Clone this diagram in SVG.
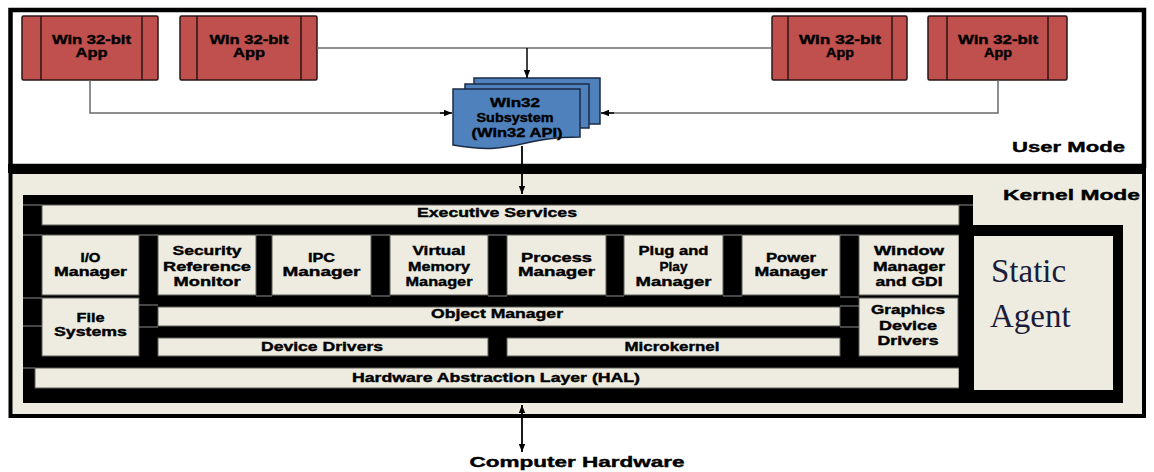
<svg xmlns="http://www.w3.org/2000/svg" width="1154" height="472" viewBox="0 0 1154 472">
  <style>
    .t { font-family: "Liberation Sans", Arial, sans-serif; font-weight: bold; font-size: 13px; fill: #000; stroke: #000; stroke-width: 0.4; text-anchor: middle; }
    .big { font-size: 15px; }
    .mode { font-size: 15px; text-anchor: start; }
    .serif { font-family: "Liberation Serif", "Times New Roman", serif; font-weight: normal; font-size: 33px; fill: #1c1c3a; text-anchor: start; }
    .app { fill: #c0504d; stroke: #2b1515; stroke-width: 1.5; }
    .appdiv { stroke: #2b1515; stroke-width: 1.5; }
    .doc { fill: #4f81bd; stroke: #1b2a44; stroke-width: 1.5; }
    .mod { fill: #eeece1; stroke: #5e5e58; stroke-width: 1; }
    .thin { fill: none; stroke: #6a6a6a; stroke-width: 1.5; }
    .arw { fill: none; stroke: #000; stroke-width: 1.5; }
    .arwb { fill: none; stroke: #000; stroke-width: 1.8; }
    .seam { stroke: #8c8c8c; stroke-width: 1; }
  </style>
  <defs>
    <marker id="ah" viewBox="0 0 10 10" refX="10" refY="5" markerWidth="8" markerHeight="8" orient="auto-start-reverse" markerUnits="userSpaceOnUse">
      <path d="M0,1 L10,5 L0,9 Z" fill="#000"/>
    </marker>
  </defs>

  <rect width="1154" height="472" fill="#fff"/>

  <!-- user mode area -->
  <g id="user-mode">
    <rect x="10.5" y="10" width="1133.5" height="156" fill="#fff" stroke="#000" stroke-width="4.5"/>
    <text class="t mode" x="1012" y="152" textLength="113" lengthAdjust="spacingAndGlyphs">User Mode</text>
  </g>

  <!-- kernel mode area -->
  <g id="kernel-mode">
    <rect x="10.5" y="172" width="1133.5" height="244" fill="#eeece1" stroke="#000" stroke-width="4"/>
    <rect x="8" y="164" width="1138" height="9" fill="#000"/>
    <text class="t mode" x="1003" y="200" textLength="137" lengthAdjust="spacingAndGlyphs">Kernel Mode</text>
  </g>

  <!-- applications -->
  <g id="app1">
    <rect class="app" x="22" y="16" width="136" height="64" rx="1.5"/>
    <line class="appdiv" x1="41" y1="16" x2="41" y2="80"/>
    <line class="appdiv" x1="142" y1="16" x2="142" y2="80"/>
    <text class="t" x="91.5" y="44" textLength="79" lengthAdjust="spacingAndGlyphs">Win 32-bit</text>
    <text class="t" x="91.5" y="57" textLength="32" lengthAdjust="spacingAndGlyphs">App</text>
  </g>
  <g id="app2">
    <rect class="app" x="180" y="16" width="137" height="64" rx="1.5"/>
    <line class="appdiv" x1="197" y1="16" x2="197" y2="80"/>
    <line class="appdiv" x1="301" y1="16" x2="301" y2="80"/>
    <text class="t" x="249" y="44" textLength="79" lengthAdjust="spacingAndGlyphs">Win 32-bit</text>
    <text class="t" x="249" y="57" textLength="32" lengthAdjust="spacingAndGlyphs">App</text>
  </g>
  <g id="app3">
    <rect class="app" x="772" y="16" width="135" height="64" rx="1.5"/>
    <line class="appdiv" x1="788" y1="16" x2="788" y2="80"/>
    <line class="appdiv" x1="892" y1="16" x2="892" y2="80"/>
    <text class="t" x="840" y="44" textLength="82" lengthAdjust="spacingAndGlyphs">Win 32-bit</text>
    <text class="t" x="840" y="57" textLength="28" lengthAdjust="spacingAndGlyphs">App</text>
  </g>
  <g id="app4">
    <rect class="app" x="928" y="16" width="139" height="64" rx="1.5"/>
    <line class="appdiv" x1="947" y1="16" x2="947" y2="80"/>
    <line class="appdiv" x1="1048" y1="16" x2="1048" y2="80"/>
    <text class="t" x="998" y="44" textLength="80" lengthAdjust="spacingAndGlyphs">Win 32-bit</text>
    <text class="t" x="998" y="57" textLength="28" lengthAdjust="spacingAndGlyphs">App</text>
  </g>

  <!-- Win32 subsystem (stacked documents) -->
  <g id="win32-subsystem">
    <rect class="doc" x="474" y="78" width="126" height="46"/>
    <rect class="doc" x="465" y="84" width="124" height="44"/>
    <path class="doc" d="M453,89 H580 V137 C516,137 516,156 453,145 Z"/>
    <text class="t" x="515" y="107" textLength="50" lengthAdjust="spacingAndGlyphs">Win32</text>
    <text class="t" x="515" y="122" textLength="77" lengthAdjust="spacingAndGlyphs">Subsystem</text>
    <text class="t" x="517" y="137" textLength="91" lengthAdjust="spacingAndGlyphs">(Win32 API)</text>
  </g>

  <!-- executive block: black frame with module cells -->
  <g id="executive">
    <rect x="23" y="195" width="950" height="208" fill="#000"/>
    <rect class="mod" x="42" y="205" width="917" height="20"/>
    <text class="t" x="497" y="217" textLength="160" lengthAdjust="spacingAndGlyphs">Executive Services</text>
  </g>

  <g id="io-manager">
    <rect class="mod" x="42" y="235" width="97" height="60"/>
    <text class="t" x="90.5" y="262" textLength="20" lengthAdjust="spacingAndGlyphs">I/O</text>
    <text class="t" x="90.5" y="276" textLength="73" lengthAdjust="spacingAndGlyphs">Manager</text>
  </g>
  <g id="security-reference-monitor">
    <rect class="mod" x="158" y="235" width="98" height="60"/>
    <text class="t" x="207" y="255" textLength="69" lengthAdjust="spacingAndGlyphs">Security</text>
    <text class="t" x="207" y="271" textLength="88" lengthAdjust="spacingAndGlyphs">Reference</text>
    <text class="t" x="207" y="286" textLength="67" lengthAdjust="spacingAndGlyphs">Monitor</text>
  </g>
  <g id="ipc-manager">
    <rect class="mod" x="272" y="235" width="99" height="60"/>
    <text class="t" x="321.5" y="262" textLength="27" lengthAdjust="spacingAndGlyphs">IPC</text>
    <text class="t" x="321.5" y="276" textLength="78" lengthAdjust="spacingAndGlyphs">Manager</text>
  </g>
  <g id="virtual-memory-manager">
    <rect class="mod" x="390" y="235" width="98" height="60"/>
    <text class="t" x="439" y="255" textLength="53" lengthAdjust="spacingAndGlyphs">Virtual</text>
    <text class="t" x="439" y="271" textLength="62" lengthAdjust="spacingAndGlyphs">Memory</text>
    <text class="t" x="439" y="286" textLength="67" lengthAdjust="spacingAndGlyphs">Manager</text>
  </g>
  <g id="process-manager">
    <rect class="mod" x="507" y="235" width="99" height="60"/>
    <text class="t" x="556.5" y="262" textLength="71" lengthAdjust="spacingAndGlyphs">Process</text>
    <text class="t" x="556.5" y="276" textLength="77" lengthAdjust="spacingAndGlyphs">Manager</text>
  </g>
  <g id="plug-and-play-manager">
    <rect class="mod" x="624" y="235" width="99" height="60"/>
    <text class="t" x="673.5" y="255" textLength="70" lengthAdjust="spacingAndGlyphs">Plug and</text>
    <text class="t" x="673.5" y="271" textLength="28" lengthAdjust="spacingAndGlyphs">Play</text>
    <text class="t" x="673.5" y="286" textLength="76" lengthAdjust="spacingAndGlyphs">Manager</text>
  </g>
  <g id="power-manager">
    <rect class="mod" x="742" y="235" width="98" height="60"/>
    <text class="t" x="791" y="262" textLength="50" lengthAdjust="spacingAndGlyphs">Power</text>
    <text class="t" x="791" y="276" textLength="73" lengthAdjust="spacingAndGlyphs">Manager</text>
  </g>
  <g id="window-manager-gdi">
    <rect class="mod" x="859" y="235" width="100" height="60"/>
    <text class="t" x="909" y="255" textLength="70" lengthAdjust="spacingAndGlyphs">Window</text>
    <text class="t" x="909" y="271" textLength="72" lengthAdjust="spacingAndGlyphs">Manager</text>
    <text class="t" x="909" y="286" textLength="67" lengthAdjust="spacingAndGlyphs">and GDI</text>
  </g>

  <g id="file-systems">
    <rect class="mod" x="42" y="298" width="97" height="58"/>
    <text class="t" x="90.5" y="322" textLength="28" lengthAdjust="spacingAndGlyphs">File</text>
    <text class="t" x="90.5" y="336" textLength="73" lengthAdjust="spacingAndGlyphs">Systems</text>
  </g>
  <g id="object-manager">
    <rect class="mod" x="158" y="307" width="682" height="19"/>
    <text class="t" x="497" y="318" textLength="132" lengthAdjust="spacingAndGlyphs">Object Manager</text>
  </g>
  <g id="device-drivers">
    <rect class="mod" x="158" y="338" width="330" height="18"/>
    <text class="t" x="322" y="351" textLength="122" lengthAdjust="spacingAndGlyphs">Device Drivers</text>
  </g>
  <g id="microkernel">
    <rect class="mod" x="507" y="338" width="333" height="18"/>
    <text class="t" x="672" y="351" textLength="95" lengthAdjust="spacingAndGlyphs">Microkernel</text>
  </g>
  <g id="graphics-device-drivers">
    <rect class="mod" x="859" y="298" width="99" height="58"/>
    <text class="t" x="908" y="314" textLength="74" lengthAdjust="spacingAndGlyphs">Graphics</text>
    <text class="t" x="908" y="330" textLength="58" lengthAdjust="spacingAndGlyphs">Device</text>
    <text class="t" x="908" y="345" textLength="61" lengthAdjust="spacingAndGlyphs">Drivers</text>
  </g>
  <g id="hal">
    <rect class="mod" x="35" y="368" width="924" height="20"/>
    <text class="t" x="496" y="382" textLength="288" lengthAdjust="spacingAndGlyphs">Hardware Abstraction Layer (HAL)</text>
  </g>

  <!-- faint cell edges running across the black frame -->
  <g id="seams">
    <line class="seam" x1="23" y1="205" x2="42" y2="205"/>
    <line class="seam" x1="23" y1="235" x2="42" y2="235"/>
    <line class="seam" x1="23" y1="298" x2="42" y2="298"/>
    <line class="seam" x1="23" y1="326" x2="42" y2="326"/>
    <line class="seam" x1="23" y1="368" x2="35" y2="368"/>
    <line class="seam" x1="139" y1="305" x2="158" y2="305"/>
    <line class="seam" x1="139" y1="327" x2="158" y2="327"/>
    <line class="seam" x1="139" y1="235" x2="158" y2="235"/>
    <line class="seam" x1="256" y1="235" x2="272" y2="235"/>
    <line class="seam" x1="371" y1="235" x2="390" y2="235"/>
    <line class="seam" x1="488" y1="235" x2="507" y2="235"/>
    <line class="seam" x1="606" y1="235" x2="624" y2="235"/>
    <line class="seam" x1="723" y1="235" x2="742" y2="235"/>
    <line class="seam" x1="840" y1="235" x2="859" y2="235"/>
    <line class="seam" x1="256" y1="296" x2="272" y2="296"/>
    <line class="seam" x1="371" y1="296" x2="390" y2="296"/>
    <line class="seam" x1="488" y1="296" x2="507" y2="296"/>
    <line class="seam" x1="606" y1="296" x2="624" y2="296"/>
    <line class="seam" x1="723" y1="296" x2="742" y2="296"/>
    <line class="seam" x1="840" y1="297" x2="859" y2="297"/>
    <line class="seam" x1="840" y1="306" x2="859" y2="306"/>
    <line class="seam" x1="840" y1="327" x2="859" y2="327"/>
    <line class="seam" x1="959" y1="205" x2="973" y2="205"/>
    <line class="seam" x1="959" y1="297" x2="973" y2="297"/>
    <line class="seam" x1="959" y1="327" x2="973" y2="327"/>
    <line class="seam" x1="959" y1="370" x2="973" y2="370"/>
  </g>

  <!-- static agent box -->
  <g id="static-agent">
    <rect x="959" y="225" width="164" height="178" fill="#000"/>
    <rect x="974" y="236" width="139" height="154" fill="#eeece1"/>
    <text class="serif" x="991" y="282">Static</text>
    <text class="serif" x="990" y="327">Agent</text>
  </g>

  <!-- connectors -->
  <g id="connectors">
    <path class="thin" d="M90,80 V113 H449"/>
    <path class="arw" d="M440,113 H452" marker-end="url(#ah)"/>
    <path class="thin" d="M998,80 V113 H605"/>
    <path class="arw" d="M614,113 H601" marker-end="url(#ah)"/>
    <path class="thin" d="M317,48 H772"/>
    <path class="arw" d="M527,48 V78" marker-end="url(#ah)"/>
    <path class="arwb" d="M522,146 V194" marker-end="url(#ah)"/>
    <path class="arwb" d="M522,405 V452" marker-start="url(#ah)" marker-end="url(#ah)"/>
  </g>

  <text class="t big" x="577" y="467" textLength="215" lengthAdjust="spacingAndGlyphs">Computer Hardware</text>
</svg>
